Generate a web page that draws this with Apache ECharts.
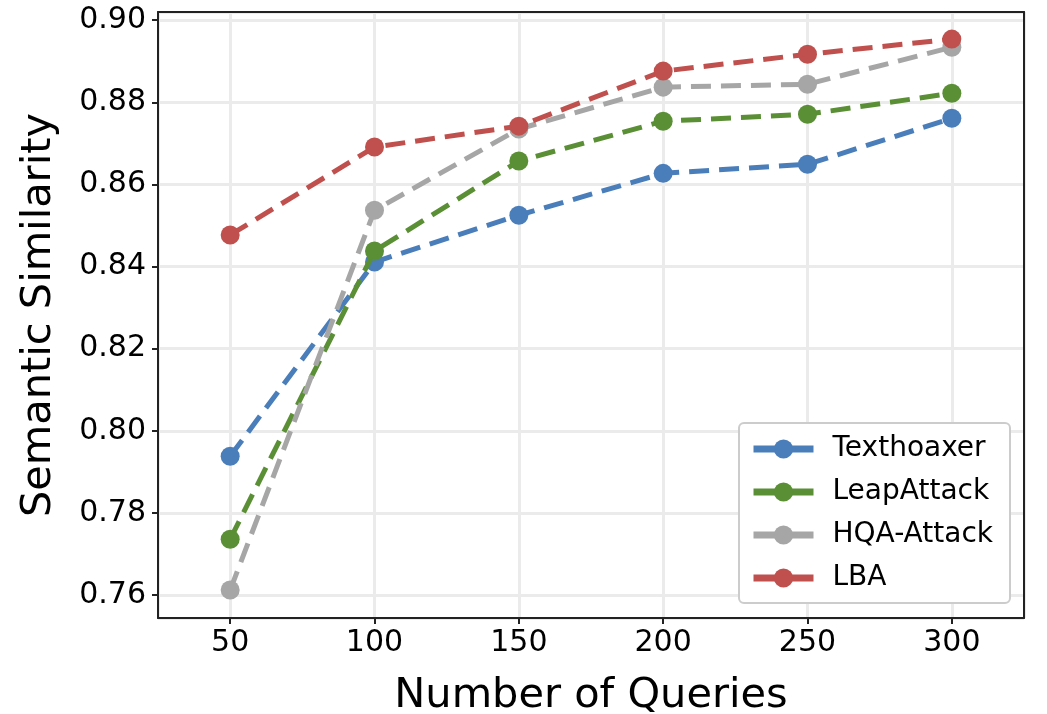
<!DOCTYPE html>
<html lang="en">
<head>
    <meta charset="UTF-8" />
    <title>Semantic Similarity vs Number of Queries</title>
    <style>
        html, body { margin: 0; padding: 0; background: #fff; }
        #chart { width: 1047px; height: 714px; }
    </style>
</head>
<body>
    <div id="chart"></div>
    <script src="https://cdn.jsdelivr.net/npm/echarts@6/dist/echarts.min.js"></script>
    <script type="text/javascript">
        // data
        var queries = [50, 100, 150, 200, 250, 300];
        var seriesNames = ['Texthoaxer', 'LeapAttack', 'HQA-Attack', 'LBA'];
        var texthoaxer = [0.7938, 0.8411, 0.8525, 0.8627, 0.8649, 0.8761];
        var leapAttack = [0.7736, 0.8438, 0.8657, 0.8754, 0.8771, 0.8822];
        var hqaAttack = [0.7612, 0.8537, 0.8735, 0.8837, 0.8844, 0.8934];
        var lba = [0.8477, 0.8691, 0.8742, 0.8876, 0.8917, 0.8954];
        var colors = ['#4a7ebb', '#5a8f35', '#a6a6a6', '#c0504d'];

        var allValues = [texthoaxer, leapAttack, hqaAttack, lba];
        var font = 'DejaVu Sans';
        var xMin = 25, xMax = 325, yMin = 0.7544, yMax = 0.902;

        function pairs(vals) {
            return queries.map(function (q, i) { return [q, vals[i]]; });
        }

        var chart = echarts.init(document.getElementById('chart'), null, { renderer: 'canvas' });

        var series = seriesNames.map(function (name, i) {
            return {
                name: name,
                type: 'line',
                data: pairs(allValues[i]),
                symbol: 'circle',
                symbolSize: 19,
                color: colors[i],
                lineStyle: { width: 5, type: [20, 10], color: colors[i] },
                itemStyle: { color: colors[i] },
                z: 2 + i,
                animation: false
            };
        });

        // top / right spines only
        var spine = {
            axisLine: { show: true, lineStyle: { color: '#222', width: 2 } },
            axisTick: { show: false },
            axisLabel: { show: false },
            splitLine: { show: false }
        };

        var option = {
            backgroundColor: '#fff',
            animation: false,
            grid: {
                left: 158, right: 23, top: 12, bottom: 96,
                outerBoundsMode: 'none',
                containLabel: false
            },
            legend: {
                data: seriesNames,
                left: 739, top: 423,
                orient: 'vertical',
                padding: [11, 17, 10, 11],
                itemWidth: 60, itemHeight: 24, itemGap: 13,
                backgroundColor: '#fff',
                borderColor: '#cccccc', borderWidth: 2, borderRadius: 5,
                lineStyle: { type: 'solid', width: 7 },
                textStyle: { fontFamily: font, fontSize: 28, color: '#000', lineHeight: 30, padding: [0, 0, 0, 14] }
            },
            xAxis: [{
                type: 'value',
                min: xMin, max: xMax, splitNumber: 6,
                name: 'Number of Queries',
                nameLocation: 'middle', nameGap: 57,
                nameTextStyle: { fontFamily: font, fontSize: 41.5, color: '#000' },
                axisLine: { show: true, lineStyle: { color: '#222', width: 2 } },
                axisTick: { show: true, length: 6, lineStyle: { color: '#222', width: 2 } },
                axisLabel: { fontFamily: font, fontSize: 30, color: '#000', margin: 10, showMinLabel: false, showMaxLabel: false },
                splitLine: { show: true, lineStyle: { color: '#ebebeb', width: 3 } }
            }, Object.assign({ type: 'value', position: 'top', min: xMin, max: xMax }, spine)],
            yAxis: [{
                type: 'value',
                min: yMin, max: yMax, splitNumber: 7,
                name: 'Semantic Similarity',
                nameLocation: 'middle', nameGap: 98,
                nameTextStyle: { fontFamily: font, fontSize: 41.5, color: '#000' },
                axisLine: { show: true, lineStyle: { color: '#222', width: 2 } },
                axisTick: { show: true, length: 6, lineStyle: { color: '#222', width: 2 } },
                axisLabel: {
                    fontFamily: font, fontSize: 30, color: '#000', margin: 12,
                    showMinLabel: false, showMaxLabel: false,
                    formatter: function (v) { return v.toFixed(2); }
                },
                splitLine: { show: true, lineStyle: { color: '#ebebeb', width: 3 } }
            }, Object.assign({ type: 'value', position: 'right', min: yMin, max: yMax }, spine)],
            series: series
        };

        chart.setOption(option);
    </script>
</body>
</html>
